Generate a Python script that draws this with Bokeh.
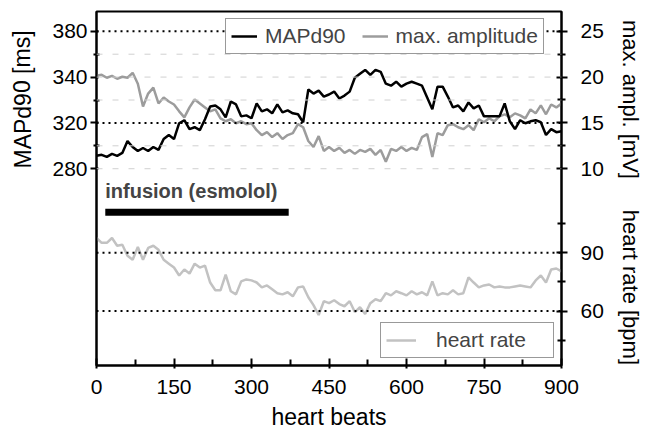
from bokeh.plotting import figure
from bokeh.layouts import row
from bokeh.models import Range1d, LinearAxis, FixedTicker, Span, Label, Legend, LegendItem
from bokeh.core.properties import value
from bokeh.embed import file_html
from bokeh.resources import INLINE

beats = list(range(0, 901, 10))
mapd90 = [289.4, 290.1, 288.6, 290.8, 289.4, 291.5, 300.1, 295.8, 292.9, 295.1,
          292.9, 295.8, 293.7, 301.6, 304.5, 301.6, 313.1, 315.3, 308.8, 310.2,
          308.1, 316.0, 325.3, 326.0, 323.2, 317.4, 328.9, 326.8, 318.1, 318.8,
          316.7, 327.5, 321.7, 323.2, 320.3, 326.8, 321.0, 322.4, 320.3, 319.6,
          313.8, 337.6, 334.7, 336.8, 332.5, 334.0, 336.1, 331.1, 333.2, 336.1,
          346.2, 349.1, 351.9, 348.3, 351.9, 350.5, 341.9, 340.4, 343.3, 339.7,
          341.9, 343.3, 341.9, 340.4, 331.8, 323.2, 339.7, 339.7, 332.5, 324.6,
          326.0, 321.7, 328.2, 323.9, 326.0, 318.1, 318.1, 318.1, 318.1, 327.5,
          314.5, 308.8, 315.3, 313.1, 314.5, 315.3, 313.8, 304.5, 308.8, 306.6,
          307.3]
amplitude = [20.14, 20.25, 19.93, 20.14, 19.82, 20.04, 19.93, 20.47, 19.28, 16.80,
             18.20, 18.85, 17.12, 17.77, 17.34, 17.01, 16.26, 15.61, 16.69, 17.55,
             17.12, 16.69, 16.26, 16.47, 15.50, 15.18, 15.40, 14.96, 15.18, 14.86,
             14.96, 14.21, 13.67, 13.99, 13.45, 13.88, 13.24, 13.67, 13.88, 14.86,
             14.53, 13.02, 12.37, 13.56, 11.94, 12.37, 11.94, 12.27, 11.73, 12.05,
             11.62, 12.05, 11.83, 12.16, 11.51, 12.05, 10.76, 12.16, 11.94, 12.37,
             11.94, 12.27, 12.05, 13.45, 13.78, 11.29, 13.88, 13.67, 14.75, 14.86,
             14.53, 14.32, 14.75, 14.21, 15.40, 15.07, 15.50, 15.18, 15.72, 15.94,
             15.61, 16.04, 15.83, 15.50, 16.47, 16.04, 16.91, 15.94, 17.01, 16.69,
             17.12]
heart_rate = [97.6, 95.1, 95.1, 97.6, 93.6, 94.1, 88.5, 86.4, 93.0, 86.4,
              92.5, 93.6, 91.5, 86.4, 84.4, 82.4, 78.3, 81.4, 79.3, 84.4,
              82.4, 83.4, 74.7, 70.7, 70.7, 78.8, 70.2, 68.6, 75.3, 76.3,
              75.8, 74.7, 72.2, 73.2, 71.2, 69.2, 68.6, 69.7, 67.6, 72.2,
              72.7, 67.1, 63.1, 58.0, 65.1, 64.1, 65.6, 63.6, 62.5, 65.1,
              59.5, 62.0, 58.5, 64.1, 66.1, 65.1, 69.2, 68.1, 70.2, 69.2,
              68.1, 70.2, 68.6, 69.7, 68.1, 75.3, 68.1, 69.2, 68.6, 70.7,
              68.6, 69.2, 77.3, 74.7, 72.2, 73.2, 73.7, 72.2, 72.7, 72.2,
              72.2, 72.7, 73.2, 72.7, 72.2, 75.8, 78.3, 74.7, 81.4, 81.9,
              80.4]

x_ticks = [0, 150, 300, 450, 600, 750, 900]
x_minor = [75, 225, 375, 525, 675, 825]
left_ticks = [280, 313.33, 346.67, 380]
left_labels = ["280", "320", "340", "380"]
amp_ticks = [10, 15, 20, 25]
hr_ticks = [60, 90]
infusion = [17, 372]

FONT = "Liberation Sans"
H = 432
MAP_LO, MAP_HI = 136.83, 394.39
AMP_LO, AMP_HI = -11.475, 27.158
HR_LO, HR_HI = 32.03, 214.07
FRAME_TOP, FRAME_BOTTOM = 11, 369


def hr_to_amp(v):
    f = (v - HR_LO) / (HR_HI - HR_LO)
    return round(AMP_LO + f * (AMP_HI - AMP_LO), 3)


def map_at_px(py):
    # vertical page pixel -> MAPd90 axis units
    return MAP_LO + (MAP_HI - MAP_LO) * ((FRAME_BOTTOM - py) / (FRAME_BOTTOM - FRAME_TOP))


p = figure(width=568, height=H, x_range=Range1d(0, 900),
           y_range=Range1d(MAP_LO, MAP_HI), output_backend="svg",
           toolbar_location=None, min_border_left=56, min_border_right=47,
           min_border_top=FRAME_TOP, min_border_bottom=H - FRAME_BOTTOM)
p.extra_y_ranges = {"amp": Range1d(AMP_LO, AMP_HI), "hr": Range1d(HR_LO, HR_HI)}
p.xgrid.visible = False
p.ygrid.visible = False
p.outline_line_color = "black"
p.outline_line_width = 2
p.background_fill_color = "white"
p.border_fill_color = "white"

# faint grid lines
for yv in [280, 296.67, 330, 346.67, 363.33]:
    p.add_layout(Span(location=yv, dimension="width", line_color="#d0d0d0",
                      line_width=1, line_dash="6 10"))
# dotted reference lines
for yv in [380, 313.33]:
    p.add_layout(Span(location=yv, dimension="width", line_color="black",
                      line_width=2, line_dash="2 4"))
for hv in hr_ticks:
    p.add_layout(Span(location=hv, dimension="width", line_color="black",
                      line_width=2, line_dash="2 4", y_range_name="hr"))

r_hr = p.line(beats, heart_rate, color="#c2c2c2", line_width=2.5, y_range_name="hr")
r_amp = p.line(beats, amplitude, color="#9c9c9c", line_width=2.5, y_range_name="amp")
r_map = p.line(beats, mapd90, color="black", line_width=2.5)

# infusion bar + text
bar_y = map_at_px(214)
p.segment(x0=[infusion[0]], y0=[bar_y], x1=[infusion[1]], y1=[bar_y],
          line_color="black", line_width=7, line_cap="butt")
p.add_layout(Label(x=infusion[0], y=map_at_px(193),
                   text="infusion (esmolol)", text_font=FONT, text_font_size="20px",
                   text_font_style="bold", text_baseline="middle", text_align="left"))

# axes
xa = p.xaxis[0]
xa.ticker = FixedTicker(ticks=x_ticks, minor_ticks=x_minor)
xa.axis_label = "heart beats"
ya = p.yaxis[0]
ya.ticker = FixedTicker(ticks=left_ticks, minor_ticks=[296.67, 330, 363.33])
ya.major_label_overrides = {t: l for t, l in zip(left_ticks, left_labels)}

hr_pos = [hr_to_amp(v) for v in hr_ticks]
hr_minor = [hr_to_amp(v) for v in [45, 75, 105]]
ra = LinearAxis(y_range_name="amp",
                ticker=FixedTicker(ticks=amp_ticks + hr_pos,
                                   minor_ticks=[12.5, 17.5, 22.5, 27.5] + hr_minor))
ovr = {float(t): str(t) for t in amp_ticks}
for pos, v in zip(hr_pos, hr_ticks):
    ovr[pos] = str(v)
ra.major_label_overrides = ovr
p.add_layout(ra, "right")

for ax in [xa, ya, ra]:
    ax.axis_line_color = "black"
    ax.axis_line_width = 2
    ax.major_tick_line_color = "black"
    ax.major_tick_line_width = 2
    ax.minor_tick_line_color = "black"
    ax.minor_tick_line_width = 2
    ax.major_label_text_font = FONT
    ax.major_label_text_font_size = "21px"
    ax.major_label_text_color = "black"
    ax.axis_label_text_font = FONT
    ax.axis_label_text_font_size = "23px"
    ax.axis_label_text_font_style = "normal"
    ax.axis_label_text_color = "black"

xa.major_tick_in = 7
xa.major_tick_out = 3
xa.minor_tick_in = 6
xa.minor_tick_out = 0
xa.major_label_standoff = 11
xa.axis_label_standoff = 7
ya.major_tick_in = 2
ya.major_tick_out = 6
ya.minor_tick_in = 3
ya.minor_tick_out = 3
ya.major_label_standoff = 3
ra.major_tick_in = 5
ra.major_tick_out = 6
ra.minor_tick_in = 4
ra.minor_tick_out = 4
ra.major_label_standoff = 13

# legends
leg1 = Legend(items=[LegendItem(label="MAPd90", renderers=[r_map]),
                     LegendItem(label="max. amplitude", renderers=[r_amp])],
              orientation="horizontal", location=(129, 311))
leg2 = Legend(items=[LegendItem(label="heart rate", renderers=[r_hr])],
              orientation="horizontal", location=(284, 7))
for lg in [leg1, leg2]:
    lg.label_text_font = FONT
    lg.label_text_font_size = "21px"
    lg.border_line_color = "#333333"
    lg.border_line_width = 1.5
    lg.background_fill_alpha = 1
    lg.glyph_width = 26
    lg.label_standoff = 8
    lg.padding = 5
    lg.spacing = 16
    lg.margin = 0
leg2.glyph_width = 30
leg2.label_standoff = 20
leg2.label_width = 112
p.add_layout(leg1)
p.add_layout(leg2)


def side_fig(w):
    # the row aligns the side frames with the main frame (page y 11..369)
    f = figure(width=w, height=H, x_range=Range1d(0, w),
               y_range=Range1d(FRAME_BOTTOM, FRAME_TOP),
               output_backend="svg", toolbar_location=None, min_border=0,
               x_axis_location=None, y_axis_location=None)
    f.outline_line_color = None
    f.xgrid.visible = False
    f.ygrid.visible = False
    f.background_fill_color = "white"
    f.border_fill_color = "white"
    return f


left = side_fig(40)
left.text(x=[22], y=[100], text=["MAPd90 [ms]"], angle=1.5708,
          text_font=value(FONT), text_font_size="23px", text_color="black",
          text_align="center", text_baseline="middle")

right = side_fig(36)
right.text(x=[22, 22], y=[100, 290], text=["max. ampl. [mV]", "heart rate [bpm]"],
           angle=-1.5708, text_font=value(FONT), text_font_size="22px",
           text_color="black", text_align="center", text_baseline="middle")

layout = row(left, p, right)
open("out.html", "w").write(file_html(layout, INLINE))
